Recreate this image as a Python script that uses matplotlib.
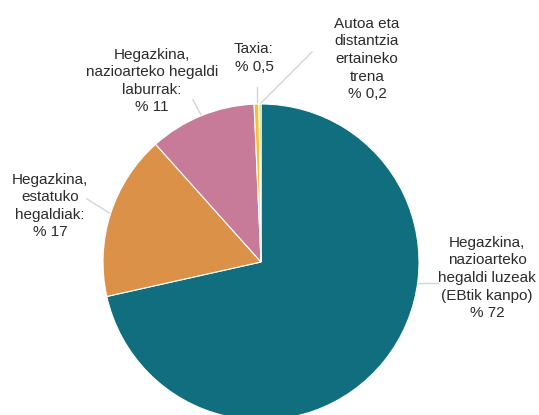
import numpy as np
import matplotlib.pyplot as plt

plt.rcParams['font.family'] = ['Liberation Sans', 'DejaVu Sans']

# Garraiobide bakoitzaren isuri-ehunekoa
etiketak = [
    "Hegazkina,\nnazioarteko\nhegaldi luzeak\n(EBtik kanpo)\n% 72",
    "Hegazkina,\nestatuko\nhegaldiak:\n% 17",
    "Hegazkina,\nnazioarteko hegaldi\nlaburrak:\n% 11",
    "Taxia:\n% 0,5",
    "Autoa eta\ndistantzia\nertaineko\ntrena\n% 0,2",
]
balioak = [72, 17, 11, 0.5, 0.2]
koloreak = ["#106e7f", "#dc9149", "#c77b98", "#f5c030", "#9cc95a"]

W, H = 539, 415
fig = plt.figure(figsize=(W / 100, H / 100), dpi=100)
ax = fig.add_axes([0, 0, 1, 1])

zentroa = (261, H - 262)
erradioa = 158

wedges, _ = ax.pie(
    balioak,
    colors=koloreak,
    startangle=90,
    counterclock=False,
    center=zentroa,
    radius=erradioa,
    wedgeprops=dict(edgecolor="white", linewidth=0.8),
)

ax.set_xlim(0, W)
ax.set_ylim(0, H)
ax.set_aspect("equal")
ax.axis("off")

# testuaren kokapena (pixeletan, goitik behera) eta marra-amaiera
testu_pos = [(487, 278), (50, 206), (152, 81), (254, 58), (367, 59)]
marra_amaiera = [(438, 283), (87, 199), (193, 100), (None, 87), (312, 52)]

for w, lab, (tx, ty), (mx, my) in zip(wedges, etiketak, testu_pos, marra_amaiera):
    if my == 283:
        # marra horizontala ertzeraino
        dy = (H - my) - zentroa[1]
        x0 = zentroa[0] + np.sqrt(erradioa**2 - dy**2)
        y0 = H - my
    else:
        ang = np.deg2rad((w.theta1 + w.theta2) / 2)
        x0 = zentroa[0] + erradioa * np.cos(ang)
        y0 = zentroa[1] + erradioa * np.sin(ang)
    if mx is None:
        mx = x0
    ax.plot([x0, mx], [y0, H - my], color="#d4d4d4", lw=1, zorder=0)
    ax.text(tx, H - ty, lab, ha="center", va="center", fontsize=11,
            color="#2b2b2b", linespacing=1.32)

plt.savefig("out.png", dpi=100)
